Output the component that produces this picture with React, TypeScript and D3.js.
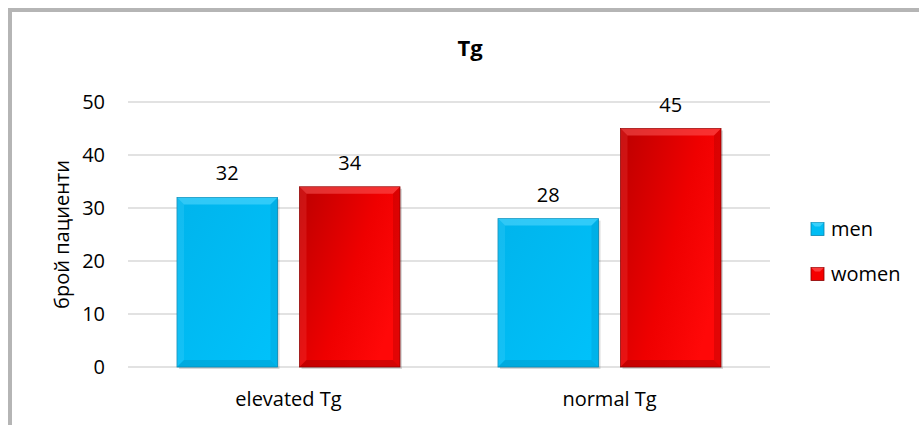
import React from "react";
import * as d3 from "d3";

const categories = ["elevated Tg", "normal Tg"];
const seriesNames = ["men", "women"];
const menValues = [32, 28];
const womenValues = [34, 45];
const yTicks = [0, 10, 20, 30, 40, 50];

const W = 919;
const H = 425;
const FONT = "'Open Sans', sans-serif";
const FS = 20;

const plot = { left: 128, right: 770, top: 102, bottom: 367 };

const x0 = d3.scaleBand<string>().domain(categories).range([plot.left, plot.right]).padding(0);
const x1 = d3.scaleBand<string>().domain(seriesNames).range([0, x0.bandwidth()]).paddingInner(0.18).paddingOuter(0.4);
const y = d3.scaleLinear().domain([0, 50]).range([plot.bottom, plot.top]);

const palette: Record<string, { base: string; dark: string; light: string; edge: string; gradId: string }> = {
  men: { base: "#00bdf4", dark: "#0096c6", light: "#60dcff", edge: "#0a86b0", gradId: "gMen" },
  women: { base: "#f50000", dark: "#a00000", light: "#ff6060", edge: "#880000", gradId: "gWomen" },
};

function BevelBar({ x, yTop, w, h, s }: { x: number; yTop: number; w: number; h: number; s: string }) {
  const c = palette[s];
  const b = 7;
  const x2 = x + w;
  const y2 = yTop + h;
  return (
    <g>
      <rect x={x + 2} y={yTop + 2} width={w} height={h} fill="#000" opacity={0.15} />
      <rect x={x} y={yTop} width={w} height={h} fill={`url(#${c.gradId})`} stroke={c.edge} strokeWidth={0.8} />
      <polygon points={`${x},${yTop} ${x2},${yTop} ${x2 - b},${yTop + b} ${x + b},${yTop + b}`} fill={c.light} opacity={0.5} />
      <polygon points={`${x},${yTop} ${x + b},${yTop + b} ${x + b},${y2 - b} ${x},${y2}`} fill={c.light} opacity={0.2} />
      <polygon points={`${x2},${yTop} ${x2},${y2} ${x2 - b},${y2 - b} ${x2 - b},${yTop + b}`} fill={c.dark} opacity={0.3} />
      <polygon points={`${x},${y2} ${x2},${y2} ${x2 - b},${y2 - b} ${x + b},${y2 - b}`} fill={c.dark} opacity={0.45} />
    </g>
  );
}

export default function App() {
  const rows = categories.map((cat, i) => ({ cat, men: menValues[i], women: womenValues[i] }));
  return (
    <svg width={W} height={H} style={{ position: "absolute", left: 0, top: 0 }} fontFamily={FONT}>
      <defs>
        <linearGradient id="gMen" x1="0" y1="0" x2="1" y2="1">
          <stop offset="0" stopColor="#00b4ec" />
          <stop offset="1" stopColor="#00c2fb" />
        </linearGradient>
        <linearGradient id="gWomen" x1="0" y1="0" x2="1" y2="0.6">
          <stop offset="0" stopColor="#bc0000" />
          <stop offset="0.6" stopColor="#ef0000" />
          <stop offset="1" stopColor="#ff0808" />
        </linearGradient>
      </defs>
      <rect x={0} y={0} width={W} height={H} fill="#fff" />
      {/* outer frame */}
      <rect x={10} y={10} width={W + 20} height={H + 20} fill="none" stroke="#b5b5b5" strokeWidth={4} />

      <text x={470} y={56} textAnchor="middle" fontSize={22} fontWeight="bold" fill="#000">Tg</text>

      {yTicks.map((t) => (
        <g key={t}>
          <line x1={plot.left} x2={plot.right} y1={y(t)} y2={y(t)} stroke="#d9d9d9" strokeWidth={1.5} />
          <text x={105} y={y(t)} dy="0.36em" textAnchor="end" fontSize={FS} fill="#000">{t}</text>
        </g>
      ))}

      <text transform={`translate(69,${(plot.top + plot.bottom) / 2}) rotate(-90)`} textAnchor="middle" fontSize={FS} fill="#000">брой пациенти</text>

      {rows.map((r) => (
        <g key={r.cat} transform={`translate(${x0(r.cat)},0)`}>
          {seriesNames.map((s) => {
            const v = (r as any)[s] as number;
            const bx = x1(s)!;
            return (
              <g key={s}>
                <BevelBar x={bx} yTop={y(v)} w={x1.bandwidth()} h={plot.bottom - y(v)} s={s} />
                <text x={bx + x1.bandwidth() / 2} y={y(v) - 17} textAnchor="middle" fontSize={FS} fill="#000">{v}</text>
              </g>
            );
          })}
          <text x={x0.bandwidth() / 2} y={406} textAnchor="middle" fontSize={FS} fill="#000">{r.cat}</text>
        </g>
      ))}

      {seriesNames.map((s, i) => {
        const ly = 229 + i * 45;
        const c = palette[s];
        return (
          <g key={s}>
            <rect x={811} y={ly - 6.5} width={13} height={13} fill={c.base} stroke={c.edge} strokeWidth={0.8} />
            <polygon points={`${811},${ly - 6.5} ${824},${ly - 6.5} ${820},${ly - 2.5} ${815},${ly - 2.5}`} fill={c.light} opacity={0.6} />
            <text x={831} y={ly} dy="0.36em" fontSize={FS} fill="#000">{s}</text>
          </g>
        );
      })}
    </svg>
  );
}
